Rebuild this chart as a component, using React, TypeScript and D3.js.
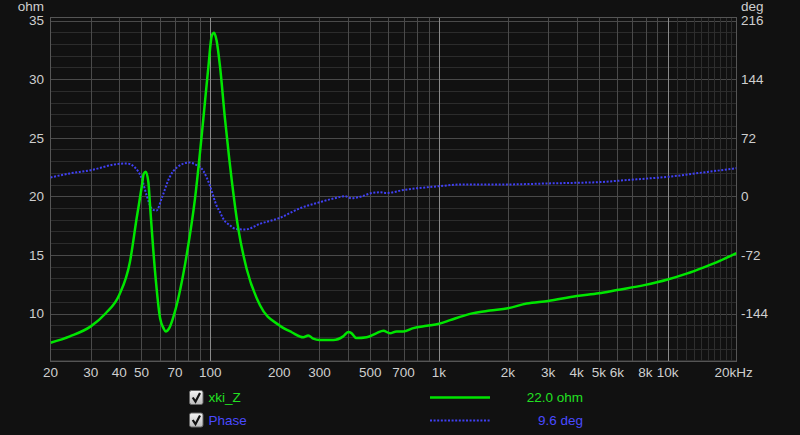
import React from "react";
import * as d3 from "d3";

// impedance magnitude, ohm
const impFreq = [20, 24.3, 30, 34.8, 40, 44.5, 47.6, 50.2, 51.1, 52.2, 53.6, 54.5, 57.3, 60.3, 62.4, 63.8, 66.3, 70.1, 78.8, 85.7, 93.2, 98, 101.5, 103.8, 106.5, 110.2, 115.9, 121, 132.6, 144.2, 164.9, 200, 227, 255, 268, 282, 300, 345, 381, 401, 414, 435, 483, 534, 571, 610, 652, 698, 772, 884, 1000, 1118, 1278, 1413, 1671, 2000, 2419, 3000, 4000, 5000, 6000, 7900, 10000, 12100, 14300, 16900, 20000];
const impOhm = [7.5, 8.05, 8.9, 10.0, 11.6, 14.4, 18.1, 20.9, 21.9, 22.1, 21.2, 19.2, 13.6, 9.6, 8.75, 8.47, 8.8, 10.2, 15.0, 19.8, 26.6, 31.0, 33.7, 33.95, 33.3, 31.1, 26.6, 23.2, 17.2, 13.8, 10.7, 9.0, 8.4, 7.97, 8.13, 7.85, 7.74, 7.74, 8.05, 8.42, 8.33, 7.9, 7.97, 8.33, 8.53, 8.31, 8.47, 8.47, 8.75, 8.95, 9.13, 9.43, 9.8, 10.03, 10.25, 10.45, 10.85, 11.07, 11.5, 11.72, 12.0, 12.42, 12.9, 13.4, 13.92, 14.49, 15.15];

// phase, deg
const phaseFreq = [20, 24.3, 30, 38.7, 43.1, 46.8, 50.2, 52.7, 55.6, 58.1, 61.5, 66.3, 71.4, 80.8, 85.6, 93.2, 99.6, 106.5, 110, 113.9, 122, 128.6, 142, 164.9, 200, 246.8, 300, 349, 389, 414, 460, 509, 553, 590, 698, 984, 1278, 2000, 3000, 4000, 5000, 6850, 10000, 14300, 20000];
const phaseDeg = [23.2, 28.1, 32.1, 39.4, 40.3, 35.4, 21.2, 0.7, -15.5, -17.6, -1.2, 23.2, 35.4, 41.5, 39.4, 31.3, 13, -11.5, -19, -27.7, -35.8, -39.9, -40.8, -33.8, -26.8, -14.7, -7.4, -2.4, 0, -2.4, 0, 4.0, 4.9, 4.0, 7.7, 12.2, 14.6, 14.6, 15.8, 16.6, 17.4, 20.3, 23.9, 29.3, 34.5];

const ohmTicks = [35, 30, 25, 20, 15, 10];
const degTicks = [216, 144, 72, 0, -72, -144];
const freqTicks = [20, 30, 40, 50, 70, 100, 200, 300, 500, 700, 1000, 2000, 3000, 4000, 5000, 6000, 8000, 10000, 20000];
const freqLabels = ["20", "30", "40", "50", "70", "100", "200", "300", "500", "700", "1k", "2k", "3k", "4k", "5k", "6k", "8k", "10k", "20kHz"];

const FONT = "'Liberation Sans', Arial, sans-serif";
const GREEN = "#00e600";
const BLUE = "#4040f4";

export default function App() {
  const left = 50.5, right = 736.5, top = 17.5, bottom = 361.5;
  const x = d3.scaleLog().domain([20, 20000]).range([left, right]);
  const yL = d3.scaleLinear().domain([35, 10]).range([20.5, 313.5]);
  const yR = d3.scaleLinear().domain([216, -144]).range([20.5, 313.5]);

  const impLine = d3.line<number>()
    .x((_, i) => x(impFreq[i]))
    .y((d) => yL(d))
    .curve(d3.curveMonotoneX);
  const phaseLine = d3.line<number>()
    .x((_, i) => x(phaseFreq[i]))
    .y((d) => yR(d))
    .curve(d3.curveMonotoneX);

  // grid
  const minorOhm = d3.range(6, 36).filter((v) => v % 5 !== 0);
  const freqGrid: number[] = [];
  [10, 100, 1000, 10000].forEach((dec) => {
    for (let m = 1; m <= 9; m++) {
      const f = m * dec;
      if (f > 20 && f < 20000) freqGrid.push(f);
    }
  });
  const fineGrid = d3.range(11000, 20000, 1000);

  return (
    <svg width={800} height={435} style={{ position: "fixed", left: 0, top: 0, background: "#111111" }} fontFamily={FONT}>
      <defs>
        <clipPath id="plot">
          <rect x={left} y={top} width={right - left} height={bottom - top} />
        </clipPath>
        <linearGradient id="cb" x1="0" y1="0" x2="0" y2="1">
          <stop offset="0" stopColor="#f4f4f4" />
          <stop offset="1" stopColor="#bdbdbd" />
        </linearGradient>
      </defs>
      <rect width={800} height={435} fill="#111111" />

      {/* horizontal grid */}
      {minorOhm.map((v) => (
        <line key={"hm" + v} x1={left} x2={right} y1={Math.round(yL(v)) + 0.5} y2={Math.round(yL(v)) + 0.5} stroke="#2c2c2c" />
      ))}
      {ohmTicks.map((v) => (
        <line key={"hM" + v} x1={left} x2={right} y1={Math.round(yL(v)) + 0.5} y2={Math.round(yL(v)) + 0.5} stroke="#4a4a4a" />
      ))}
      {/* vertical grid */}
      {fineGrid.map((f) => (
        <line key={"vf" + f} x1={Math.round(x(f)) + 0.5} x2={Math.round(x(f)) + 0.5} y1={top} y2={bottom} stroke="#2e2e2e" />
      ))}
      {freqGrid.map((f) => {
        const dec = [100, 1000, 10000].includes(f);
        return (
          <line key={"v" + f} x1={Math.round(x(f)) + 0.5} x2={Math.round(x(f)) + 0.5} y1={top} y2={bottom} stroke={dec ? "#8a8a8a" : "#4a4a4a"} />
        );
      })}
      <rect x={left} y={top} width={right - left} height={bottom - top} fill="none" stroke="#555" />

      {/* curves */}
      <g clipPath="url(#plot)">
        <path d={phaseLine(phaseDeg) ?? ""} fill="none" stroke={BLUE} strokeWidth={2} strokeDasharray="2,1.6" />
        <path d={impLine(impOhm) ?? ""} fill="none" stroke={GREEN} strokeWidth={2.5} strokeLinejoin="round" />
      </g>

      {/* axes labels */}
      <text x={44} y={11} textAnchor="end" fill="#cfcfcf" fontSize={13.5}>ohm</text>
      <text x={741} y={11} fill="#cfcfcf" fontSize={13.5}>deg</text>
      {ohmTicks.map((v) => (
        <text key={"lt" + v} x={44} y={yL(v)} dy="0.36em" textAnchor="end" fill="#cfcfcf" fontSize={13.5}>{v}</text>
      ))}
      {degTicks.map((v) => (
        <text key={"rt" + v} x={741} y={yR(v)} dy="0.36em" fill="#cfcfcf" fontSize={13.5}>{v}</text>
      ))}
      {freqTicks.map((f, i) => (
        <text key={"xt" + f} x={f === 20000 ? x(f) - 22 : x(f)} y={377} textAnchor={f === 20000 ? "start" : "middle"} fill="#cfcfcf" fontSize={13.5}>{freqLabels[i]}</text>
      ))}

      {/* legend */}
      {[397.5, 420].map((cy, i) => (
        <g key={"cb" + i} transform={`translate(189.5,${cy - 7})`}>
          <rect width={13.5} height={14} rx={2} fill="url(#cb)" stroke="#666" />
          <path d="M3.2,7 L6,11.2 L10.5,2.5" fill="none" stroke="#111" strokeWidth={2.2} />
        </g>
      ))}
      <text x={208.5} y={397.5} dy="0.36em" fill="#22e022" fontSize={13.5}>xki_Z</text>
      <text x={208.5} y={420} dy="0.36em" fill="#4a4aff" fontSize={13.5}>Phase</text>
      <line x1={430} x2={490} y1={397.5} y2={397.5} stroke={GREEN} strokeWidth={2.5} />
      <line x1={430} x2={490} y1={420.5} y2={420.5} stroke={BLUE} strokeWidth={2} strokeDasharray="2,1.6" />
      <text x={583} y={397.5} dy="0.36em" textAnchor="end" fill="#22e022" fontSize={13.5}>22.0 ohm</text>
      <text x={583} y={420} dy="0.36em" textAnchor="end" fill="#4a4aff" fontSize={13.5}>9.6 deg</text>
    </svg>
  );
}
